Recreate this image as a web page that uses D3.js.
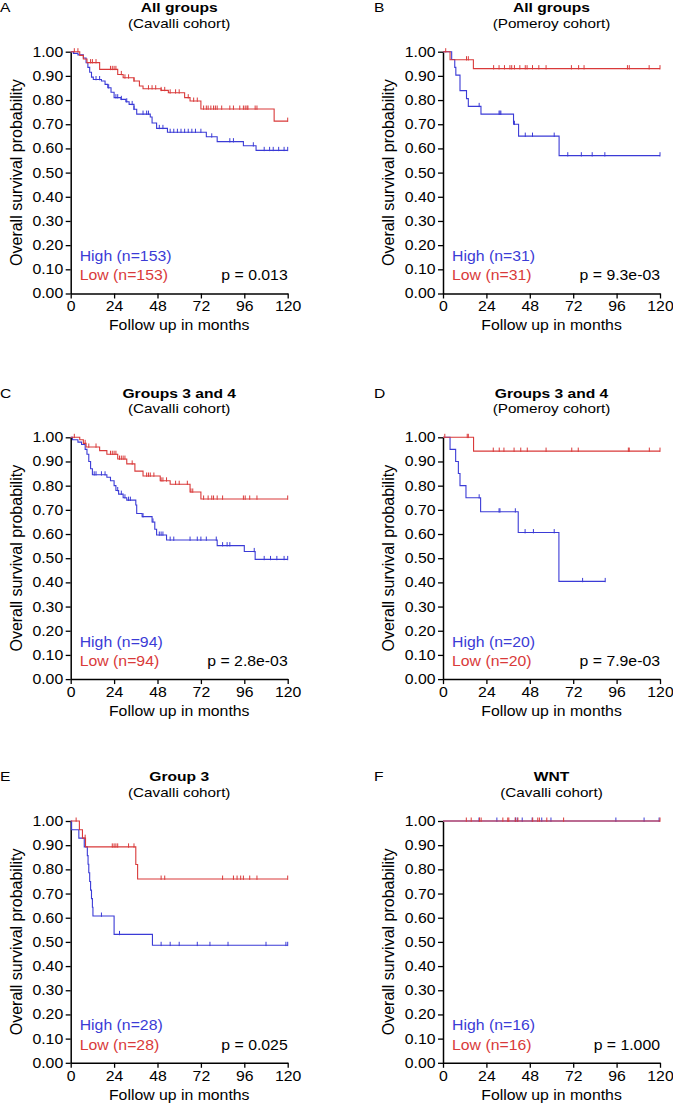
<!DOCTYPE html>
<html>
<head>
<meta charset="utf-8">
<script src="https://cdn.jsdelivr.net/npm/d3@7"></script>
<style>
  body { margin: 0; background: #fff; }
  svg { display: block; font-family: "Liberation Sans", Arial, sans-serif; }
</style>
</head>
<body>
<svg id="chart" width="673" height="1105"></svg>
<script>
// panel labels
var panelLetters = ["A", "B", "C", "D", "E", "F"];
var panelTitles = ["All groups", "All groups", "Groups 3 and 4", "Groups 3 and 4", "Group 3", "WNT"];
var panelCohorts = ["(Cavalli cohort)", "(Pomeroy cohort)", "(Cavalli cohort)", "(Pomeroy cohort)", "(Cavalli cohort)", "(Cavalli cohort)"];
var highCounts = [153, 31, 94, 20, 28, 16];
var lowCounts = [153, 31, 94, 20, 28, 16];
var pValues = ["0.013", "9.3e-03", "2.8e-03", "7.9e-03", "0.025", "1.000"];
var xTicks = [0, 24, 48, 72, 96, 120];
var yTicks = [0, 0.1, 0.2, 0.3, 0.4, 0.5, 0.6, 0.7, 0.8, 0.9, 1.0];

// KM steps [month, survival], last pair = end of follow up
var aHighSteps = [[0,1],[1.5,0.993],[4,0.987],[7,0.974],[8.5,0.954],[9.5,0.935],[10.5,0.915],[11.5,0.895],[12.5,0.885],[17,0.879],[19,0.865],[20.5,0.851],[22.3,0.832],[24,0.81],[27.8,0.803],[30.5,0.793],[32.3,0.782],[35,0.762],[36.5,0.742],[44,0.73],[45,0.705],[47.5,0.683],[53.5,0.667],[75,0.648],[81,0.628],[95.5,0.611],[102.5,0.592],[120,0.592]];
var aHighCens = [14,16,21,25,26,28,31,34,35,40,42,43,49,51,55,57,59,61,63,65,67,69,72,78,88,90,101,107,110,112,115,118,120];
var aLowSteps = [[0,1],[5,0.985],[7,0.97],[9,0.955],[16,0.927],[26,0.906],[29,0.892],[35,0.879],[38,0.858],[40,0.847],[50,0.84],[54,0.83],[63,0.81],[66,0.796],[72,0.763],[112.5,0.713],[120,0.713]];
var aLowCens = [2,4,11,12,14,22,23,24,25,28,30,32,35,43,45,47,50,52,55,58,60,65,68,70,73.5,75,76,77.5,79,80,81,83.5,88,90,93.5,95.5,96.5,97.5,98,102,103,120];

var bHighSteps = [[0,1],[4.8,0.968],[6.5,0.935],[7.1,0.903],[9.4,0.839],[13,0.806],[14,0.774],[21,0.742],[39,0.70],[41.8,0.651],[64.2,0.57],[120,0.57]];
var bHighCens = [20,31,31.5,32,39.5,45.5,49.5,61.5,69,76.5,82.5,89.5,120];
var bLowSteps = [[0,1],[3.9,0.967],[16.8,0.93],[120,0.93]];
var bLowCens = [1.5,13,14,28,31,34,37,38,39.5,42.5,45.5,46.5,49.5,53,57,71,75,78,102,103,114,120];

var cHighSteps = [[0,1],[1,0.99],[4,0.98],[6,0.97],[8,0.95],[9,0.93],[10,0.90],[11,0.87],[12,0.845],[20,0.835],[22,0.82],[24,0.80],[25,0.78],[26.5,0.765],[29,0.75],[31,0.74],[36,0.72],[36.5,0.685],[39.5,0.672],[45,0.65],[46.5,0.62],[47.5,0.596],[53,0.575],[81,0.552],[96,0.528],[102,0.495],[120,0.495]];
var cHighCens = [13,14,17,19,26,28,30,32,33,40,45.5,49,50,51,55,57,66,70,72,75,80.5,84,86.5,88,101.5,107,110.5,114,118,120];
var cLowSteps = [[0,1],[5,0.99],[7,0.975],[8.5,0.96],[16,0.945],[20,0.93],[26,0.91],[31,0.89],[35.5,0.86],[40,0.84],[49.5,0.82],[55,0.806],[66,0.774],[72,0.745],[120,0.745]];
var cLowCens = [2,8,10,14,22,23,24,25,27,28,29,30,34,42,43,44,46,50,51,53,58,60,64.5,66.5,67.5,73.5,76,78,79,81,84,95.5,96.5,99,103,120];

var dHighSteps = [[0,1],[3.9,0.95],[7,0.90],[8.5,0.85],[9.4,0.80],[12.7,0.75],[20.8,0.692],[41.6,0.606],[64.1,0.404],[89.7,0.404]];
var dHighCens = [20,31,31.5,40,45.4,50,61.5,77.2,89.7];
var dLowSteps = [[0,1],[16.9,0.943],[120,0.943]];
var dLowCens = [1,13.4,14,27.8,31.1,33.7,39.3,43,46.6,57,71.2,74.8,102.5,103,114.1,120];

var eHighSteps = [[0,1],[0.5,0.964],[4.5,0.929],[7.5,0.893],[9.2,0.857],[9.6,0.821],[10,0.786],[10.5,0.75],[11,0.714],[11.5,0.679],[12,0.643],[12.3,0.607],[24,0.531],[45.2,0.486],[120,0.486]];
var eHighCens = [17,27,50,55,60,70,77,87,108,119,120];
var eLowSteps = [[0,1],[4.8,0.964],[6.5,0.929],[8.2,0.893],[36,0.82],[37,0.76],[120,0.76]];
var eLowCens = [3,8,23,24,25,26,32,35,50,52,84,90,92,94,95.5,99,103,120];

var fHighSteps = [[0,1],[120,1]];
var fHighCens = [19.9,29.8,40,41,43.8,49.3,54.6,59.7,95.6,111.2,119.5];
var fLowSteps = [[0,1],[120,1]];
var fLowCens = [12.9,15.6,20.2,21.1,33.1,35.8,36.4,40,41.4,49.6,52.4,53.3,57.4,66.7,120];

var highSteps = [aHighSteps, bHighSteps, cHighSteps, dHighSteps, eHighSteps, fHighSteps];
var highCens = [aHighCens, bHighCens, cHighCens, dHighCens, eHighCens, fHighCens];
var lowSteps = [aLowSteps, bLowSteps, cLowSteps, dLowSteps, eLowSteps, fLowSteps];
var lowCens = [aLowCens, bLowCens, cLowCens, dLowCens, eLowCens, fLowCens];

var blue = "#3b3bd6", red = "#d93a3a";
var SX = 1.13; // text in the figure is horizontally wide
var fs = 14;
var colLeft = [70.7, 443], plotW = 217;
var rowTop = [51.7, 437.3, 821], plotH = 241.8;
var letterX = [0, 374];

var svg = d3.select("#chart");

function stretch(sel, sx) {
    sx = sx || SX;
    sel.each(function() {
        var t = d3.select(this);
        var x = +t.attr("x") || 0, y = +t.attr("y") || 0;
        t.attr("x", 0).attr("y", 0)
         .attr("transform", "translate(" + x + "," + y + ") scale(" + sx + ",1)");
    });
}

function survAt(steps, m) {
    var s = steps[0][1];
    steps.forEach(function(p) { if (p[0] <= m) s = p[1]; });
    return s;
}

for (var i = 0; i < 6; i++) {
    var col = i % 2, row = Math.floor(i / 2);
    var L = colLeft[col], T = rowTop[row];
    var g = svg.append("g");

    var x = d3.scaleLinear().domain([0, 120]).range([L, L + plotW]);
    var y = d3.scaleLinear().domain([0, 1]).range([T + plotH, T]);

    // letter + titles
    g.append("text").attr("x", letterX[col]).attr("y", T - 39.6)
        .attr("font-size", 13).text(panelLetters[i]).call(stretch, 1.2);
    g.append("text").attr("x", L + plotW / 2).attr("y", T - 39.6)
        .attr("text-anchor", "middle").attr("font-size", 13).attr("font-weight", "bold")
        .text(panelTitles[i]).call(stretch, 1.2);
    g.append("text").attr("x", L + plotW / 2).attr("y", T - 24)
        .attr("text-anchor", "middle").attr("font-size", 13.5)
        .text(panelCohorts[i]).call(stretch);

    // axes
    var yAxis = g.append("g").attr("transform", "translate(" + L + ",0)")
        .call(d3.axisLeft(y).tickValues(yTicks).tickFormat(d3.format(".2f"))
            .tickSize(5).tickSizeOuter(0).tickPadding(2.5));
    var xAxis = g.append("g").attr("transform", "translate(0," + (T + plotH) + ")")
        .call(d3.axisBottom(x).tickValues(xTicks).tickSize(5).tickSizeOuter(0).tickPadding(3));
    [yAxis, xAxis].forEach(function(a) {
        a.selectAll("text").attr("font-size", fs).attr("font-family", null).attr("fill", "#000").call(stretch);
        a.selectAll("line").attr("stroke", "#000").attr("stroke-width", 1.3);
        a.select(".domain").attr("stroke", "#000").attr("stroke-width", 1.5);
    });

    g.append("text").attr("x", L + plotW / 2).attr("y", T + plotH + 36.7)
        .attr("text-anchor", "middle").attr("font-size", fs)
        .text("Follow up in months").call(stretch);
    g.append("text")
        .attr("transform", "translate(" + (L - 49) + "," + (T + plotH / 2) + ") rotate(-90)")
        .attr("text-anchor", "middle").attr("font-size", 16)
        .text("Overall survival probability");

    // curves
    var line = d3.line().x(function(d) { return x(d[0]); }).y(function(d) { return y(d[1]); })
        .curve(d3.curveStepAfter);
    [[highSteps[i], highCens[i], blue], [lowSteps[i], lowCens[i], red]].forEach(function(c) {
        g.append("path").datum(c[0]).attr("d", line)
            .attr("fill", "none").attr("stroke", c[2]).attr("stroke-width", 1.1);
        g.selectAll(null).data(c[1]).enter().append("line")
            .attr("x1", function(d) { return x(d); }).attr("x2", function(d) { return x(d); })
            .attr("y1", function(d) { return y(survAt(c[0], d)) - 3.5; })
            .attr("y2", function(d) { return y(survAt(c[0], d)) + 0.8; })
            .attr("stroke", c[2]).attr("stroke-width", 1);
    });

    // legend + p value
    g.append("text").attr("x", L + 9).attr("y", T + plotH - 32.6)
        .attr("font-size", fs).attr("fill", blue)
        .text("High (n=" + highCounts[i] + ")").call(stretch);
    g.append("text").attr("x", L + 9).attr("y", T + plotH - 13.3)
        .attr("font-size", fs).attr("fill", red)
        .text("Low (n=" + lowCounts[i] + ")").call(stretch);
    g.append("text").attr("x", L + plotW).attr("y", T + plotH - 13.3)
        .attr("text-anchor", "end").attr("font-size", fs)
        .text("p = " + pValues[i]).call(stretch);
}
</script>
</body>
</html>
